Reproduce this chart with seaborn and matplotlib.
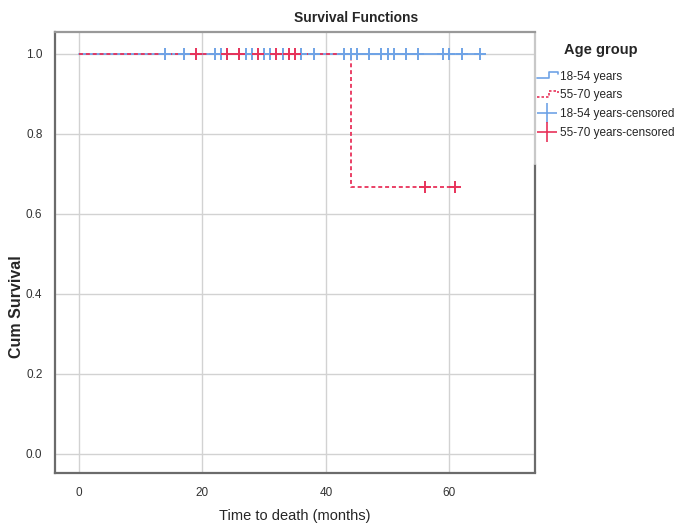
import matplotlib
matplotlib.use("Agg")
import matplotlib.pyplot as plt
from matplotlib.legend_handler import HandlerBase
from matplotlib.lines import Line2D
import seaborn as sns
import pandas as pd

# ---- data ----
groups = ["18-54 years", "55-70 years"]
young_censored = [14, 17, 22, 23, 24, 26, 27, 28, 30, 31, 33, 36, 38, 43, 44, 45,
                  47, 49, 50, 51, 53, 55, 59, 60, 62, 65]
old_censored = [19, 24, 26, 29, 32, 34, 35, 56, 61]
old_events = [44]
young_events = []
x_ticks = [0, 20, 40, 60]
y_ticks = [0.0, 0.2, 0.4, 0.6, 0.8, 1.0]
legend_labels = ["18-54 years", "55-70 years", "18-54 years-censored", "55-70 years-censored"]

blue = "#6fa3e6"
red = "#e8325a"

def km(events, censored):
    times = sorted(set(events) | set(censored))
    n = len(events) + len(censored)
    s = 1.0
    xs, ys, cx, cy = [0.0], [1.0], [], []
    for t in times:
        d = events.count(t)
        c = censored.count(t)
        if d:
            s *= (n - d) / n
            xs.append(t); ys.append(s)
        if c:
            cx.extend([t] * c); cy.extend([s] * c)
        n -= d + c
    xs.append(max(times)); ys.append(s)
    return xs, ys, cx, cy

yx, yy, ycx, ycy = km(young_events, young_censored)
ox, oy, ocx, ocy = km(old_events, old_censored)

curve = pd.DataFrame({"t": yx + ox, "s": yy + oy,
                      "g": [groups[0]] * len(yx) + [groups[1]] * len(ox)})
cens = pd.DataFrame({"t": ycx + ocx, "s": ycy + ocy,
                     "g": [groups[0]] * len(ycx) + [groups[1]] * len(ocx)})

sns.set_style("white")
plt.rcParams["font.family"] = ["Liberation Sans", "DejaVu Sans"]

fig = plt.figure(figsize=(6.81, 5.32), dpi=100)
ax = fig.add_axes([55 / 681, 1 - 473 / 532, 480 / 681, 441 / 532])

ax.grid(True, color="#d2d2d2", linewidth=1.0)
ax.set_axisbelow(True)

d_y = curve[curve.g == groups[0]]
d_o = curve[curve.g == groups[1]]
sns.lineplot(data=d_y, x="t", y="s", estimator=None, sort=False, ax=ax,
             color=blue, linewidth=1.3, drawstyle="steps-post", legend=False)
sns.lineplot(data=d_o, x="t", y="s", estimator=None, sort=False, ax=ax,
             color=red, linewidth=1.3, linestyle=(0, (2.2, 1.6)),
             drawstyle="steps-post", legend=False)

c_y = cens[cens.g == groups[0]]
c_o = cens[cens.g == groups[1]]
sns.scatterplot(data=c_y, x="t", y="s", marker="+", s=80, color=blue,
                linewidth=1.4, ax=ax, legend=False, zorder=4)
sns.scatterplot(data=c_o, x="t", y="s", marker="+", s=80, color=red,
                linewidth=1.4, ax=ax, legend=False, zorder=5)

ax.set_xlim(-3.9, 73.9)
ax.set_ylim(-0.048, 1.055)
ax.set_xticks(x_ticks)
ax.set_yticks(y_ticks)
ax.set_xticklabels([str(v) for v in x_ticks], fontsize=8.5, color="#333333")
ax.set_yticklabels([f"{v:.1f}" for v in y_ticks], fontsize=8.5, color="#333333")
ax.tick_params(axis="x", length=0, pad=10)
ax.tick_params(axis="y", length=0, pad=9)
ax.set_xlabel("")
ax.set_ylabel("")

for side in ["left", "bottom", "top"]:
    ax.spines[side].set_color("#6b6b6b")
    ax.spines[side].set_linewidth(1.6)
ax.spines["top"].set_color("#999999")
ax.spines["right"].set_visible(False)
ax.plot([1, 1], [0, 0.7], transform=ax.transAxes, color="#6b6b6b", lw=1.6, clip_on=False)
ax.plot([1, 1], [0.7, 1], transform=ax.transAxes, color="#c8c8c8", lw=1.6, clip_on=False)

fig.text(356 / 681, 1 - 18 / 532, "Survival Functions", ha="center", va="center",
         fontsize=10, fontweight="bold")
fig.text(295 / 681, 1 - 516 / 532, "Time to death (months)", ha="center", va="center",
         fontsize=10.5)
fig.text(17 / 681, 1 - 307 / 532, "Cum Survival", ha="center", va="center",
         fontsize=11.5, fontweight="bold", rotation=90)
fig.text(601 / 681, 1 - 50 / 532, "Age group", ha="center", va="center",
         fontsize=10.5, fontweight="bold")


class HandlerStep(HandlerBase):
    def __init__(self, color, ls):
        super().__init__()
        self.color = color
        self.ls = ls

    def create_artists(self, legend, orig_handle, xdescent, ydescent, width,
                       height, fontsize, trans):
        x0, w = -xdescent, width
        yl = -ydescent + height * 0.2
        yh = -ydescent + height * 0.95
        ym = -ydescent + height * 0.7
        line = Line2D([x0, x0 + 0.6 * w, x0 + 0.6 * w, x0 + w, x0 + w],
                      [yl, yl, yh, yh, ym], color=self.color, lw=1.2,
                      linestyle=self.ls, transform=trans)
        return [line]


h1 = Line2D([], [], color=blue)
h2 = Line2D([], [], color=red)
h3 = Line2D([], [], color=blue, marker="+", markersize=15, markeredgewidth=1.2, linestyle="none")
h4 = Line2D([], [], color=red, marker="+", markersize=15, markeredgewidth=1.2, linestyle="none")
leg = fig.legend([h1, h2, h3, h4], legend_labels,
                 handler_map={h1: HandlerStep(blue, "-"), h2: HandlerStep(red, (0, (1.5, 1.2)))},
                 loc="upper left", bbox_to_anchor=(533 / 681, 1 - 67 / 532),
                 frameon=False, prop={"size": 8.5},
                 handlelength=1.8, handletextpad=0.15, labelspacing=0.58, borderaxespad=0,
                 borderpad=0.3)

fig.savefig("out.png", dpi=100)
